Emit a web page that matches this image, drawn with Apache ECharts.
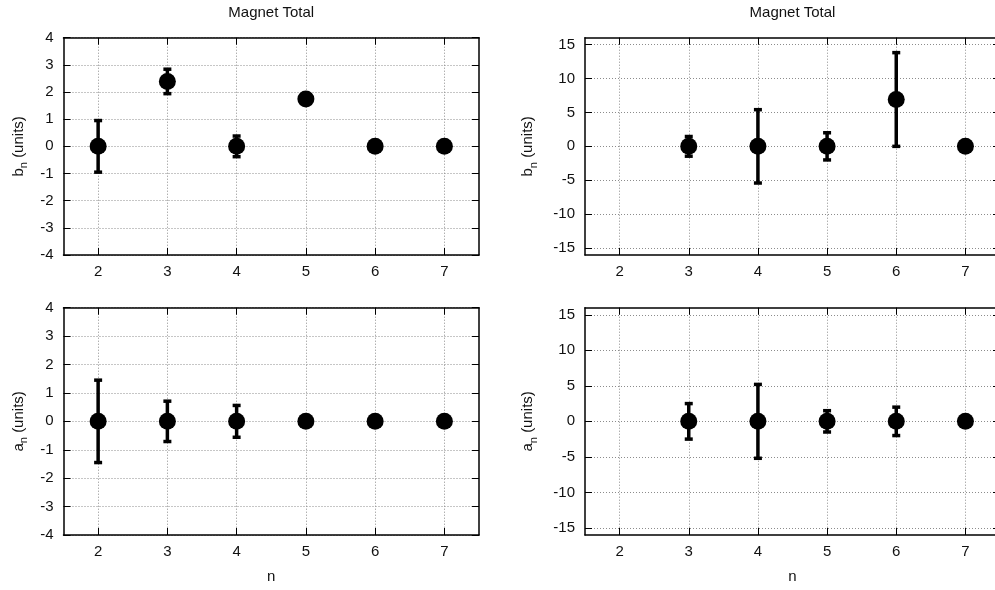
<!DOCTYPE html>
<html>
<head>
<meta charset="utf-8">
<script src="https://cdn.jsdelivr.net/npm/echarts@6/dist/echarts.min.js"></script>
<style>html,body{margin:0;padding:0;background:#fff}#c{width:995px;height:590px}</style>
</head>
<body>
<div id="c"></div>
<script>
// ---- data ----
const nLeft = [2, 3, 4, 5, 6, 7];
const bnLeft = [0, 2.39, 0, 1.74, 0, 0];
const bnLeftErr = [0.95, 0.45, 0.38, 0, 0, 0];
const anLeft = [0, 0, 0, 0, 0, 0];
const anLeftErr = [1.45, 0.71, 0.56, 0, 0, 0];

const nRight = [3, 4, 5, 6, 7];
const bnRight = [0, 0, 0, 6.9, 0];
const bnRightErr = [1.45, 5.4, 2.0, 6.9, 0];
const anRight = [0, 0, 0, 0, 0];
const anRightErr = [2.5, 5.2, 1.5, 2.0, 0];

const xTicks = [2, 3, 4, 5, 6, 7];
const yTicksSmall = [-4, -3, -2, -1, 0, 1, 2, 3, 4];
const yTicksLarge = [-15, -10, -5, 0, 5, 10, 15];
const titleText = 'Magnet Total';
const xName = 'n';

// ---- chart ----
const FONT = '"Liberation Sans", Arial, Helvetica, sans-serif';
const FS = 15;
const chart = echarts.init(document.getElementById('c'), null, {renderer: 'canvas'});

const grids = [
  {left: 63.5, top: 37.7, width: 415.5, height: 217.3},
  {left: 585, top: 37.7, width: 415, height: 217.3},
  {left: 63.5, top: 307.7, width: 415.5, height: 227.3},
  {left: 585, top: 307.7, width: 415, height: 227.3}
].map(g => Object.assign({outerBoundsMode: 'none', containLabel: false}, g));

const lineStyle = {color: '#000', width: 1.5};
const tickStyle = {color: '#000', width: 1};
const splitStyle = {show: true, lineStyle: {color: '#8c8c8c', width: 1, type: [1, 2]}};

const xAxes = [], yAxes = [];
grids.forEach((g, i) => {
  const isTop = i < 2;
  xAxes.push({
    gridIndex: i, type: 'value', min: 1.5, max: 7.5, position: 'bottom',
    axisLine: {onZero: false, lineStyle},
    axisTick: {inside: true, length: 7, customValues: xTicks, lineStyle: tickStyle},
    axisLabel: {customValues: xTicks, color: '#111', fontSize: FS, fontFamily: FONT, margin: 9},
    splitLine: splitStyle,
    name: isTop ? '' : xName, nameLocation: 'middle', nameGap: 34,
    nameTextStyle: {color: '#111', fontSize: FS, fontFamily: FONT}
  });
  xAxes.push({
    gridIndex: i, type: 'value', min: 1.5, max: 7.5, position: 'top',
    axisLine: {onZero: false, lineStyle},
    axisTick: {inside: true, length: 7, customValues: xTicks, lineStyle: tickStyle},
    axisLabel: {show: false},
    splitLine: {show: false},
    name: isTop ? titleText : '', nameLocation: 'middle', nameGap: 17,
    nameTextStyle: {color: '#111', fontSize: FS, fontFamily: FONT}
  });
  const small = (i % 2 === 0);
  const yt = small ? yTicksSmall : yTicksLarge;
  const lim = small ? 4 : 16;
  const letter = isTop ? 'b' : 'a';
  yAxes.push({
    gridIndex: i, type: 'value', min: -lim, max: lim, position: 'left',
    axisLine: {onZero: false, lineStyle},
    axisTick: {inside: true, length: 7, customValues: yt, lineStyle: tickStyle},
    axisLabel: {customValues: yt, color: '#111', fontSize: FS, fontFamily: FONT, margin: 10},
    splitLine: splitStyle,
    name: '{i|' + letter + '}{s|n}{i| (units)}', nameLocation: 'middle', nameRotate: 90,
    nameGap: small ? 34 : 46,
    nameTextStyle: {
      color: '#111', fontFamily: FONT,
      rich: {
        i: {fontSize: FS, lineHeight: 22, color: '#111', fontFamily: FONT},
        s: {fontSize: 11, lineHeight: 11, verticalAlign: 'bottom', color: '#111', fontFamily: FONT}
      }
    }
  });
  yAxes.push({
    gridIndex: i, type: 'value', min: -lim, max: lim, position: 'right',
    axisLine: {onZero: false, lineStyle},
    axisTick: {inside: true, length: 7, customValues: yt, lineStyle: tickStyle},
    axisLabel: {show: false},
    splitLine: {show: false}
  });
});

function errRender(params, api) {
  const x = api.value(0), lo = api.value(1), hi = api.value(2);
  if (hi - lo <= 0) return {type: 'group', children: []};
  const pHi = api.coord([x, hi]), pLo = api.coord([x, lo]);
  const cw = 4;
  return {
    type: 'group',
    children: [
      {type: 'line', shape: {x1: pHi[0], y1: pHi[1], x2: pLo[0], y2: pLo[1]}, style: {stroke: '#000', lineWidth: 3.5}},
      {type: 'rect', shape: {x: pHi[0] - cw, y: pHi[1] - 1.75, width: 2 * cw, height: 3.5}, style: {fill: '#000'}},
      {type: 'rect', shape: {x: pLo[0] - cw, y: pLo[1] - 1.75, width: 2 * cw, height: 3.5}, style: {fill: '#000'}}
    ]
  };
}

const panels = [
  {n: nLeft, v: bnLeft, e: bnLeftErr},
  {n: nRight, v: bnRight, e: bnRightErr},
  {n: nLeft, v: anLeft, e: anLeftErr},
  {n: nRight, v: anRight, e: anRightErr}
];

const series = [];
panels.forEach((p, i) => {
  series.push({
    type: 'custom', xAxisIndex: 2 * i, yAxisIndex: 2 * i, renderItem: errRender,
    data: p.n.map((n, k) => [n, p.v[k] - p.e[k], p.v[k] + p.e[k]]),
    encode: {x: 0, y: [1, 2]}, z: 3, clip: false, silent: true
  });
  series.push({
    type: 'scatter', xAxisIndex: 2 * i, yAxisIndex: 2 * i,
    data: p.n.map((n, k) => [n, p.v[k]]),
    symbol: 'circle', symbolSize: 17, itemStyle: {color: '#000', opacity: 1}, z: 4, silent: true
  });
});

chart.setOption({
  animation: false,
  backgroundColor: '#fff',
  textStyle: {fontFamily: FONT},
  grid: grids,
  xAxis: xAxes,
  yAxis: yAxes,
  series: series
});
</script>
</body>
</html>
